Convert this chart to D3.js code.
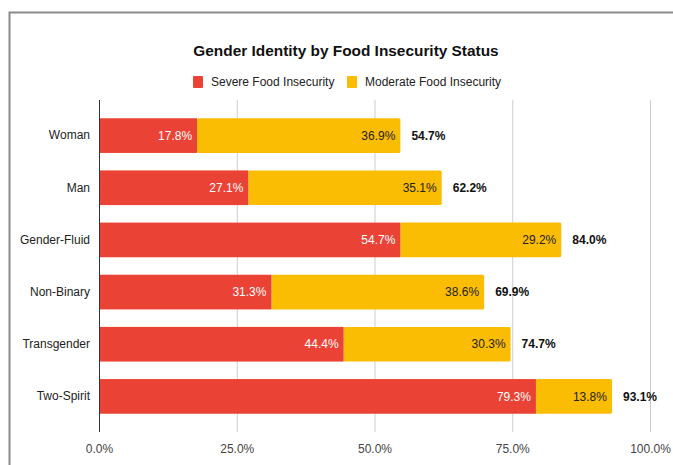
<!DOCTYPE html>
<html>
<head>
<meta charset="utf-8">
<script src="https://cdn.jsdelivr.net/npm/d3@7"></script>
<style>
  body { margin: 0; background: #fff; font-family: "Liberation Sans", Arial, sans-serif; }
</style>
</head>
<body>
<script>
var categories = ["Woman", "Man", "Gender-Fluid", "Non-Binary", "Transgender", "Two-Spirit"];
var severe = [17.8, 27.1, 54.7, 31.3, 44.4, 79.3];
var moderate = [36.9, 35.1, 29.2, 38.6, 30.3, 13.8];
var totals = [54.7, 62.2, 84.0, 69.9, 74.7, 93.1];
var xTicks = [0, 25, 50, 75, 100];
var seriesNames = ["Severe Food Insecurity", "Moderate Food Insecurity"];

var width = 673, height = 465;
var margin = {left: 99, right: 22, top: 100, bottom: 33};
var colors = ["#ea4335", "#fbbc04"];

var svg = d3.select("body").append("svg").attr("width", width).attr("height", height);

// frame (left + top border)
svg.append("path")
    .attr("d", "M9.5," + height + "V12.5H" + width)
    .attr("fill", "none")
    .attr("stroke", "#8a8a8a")
    .attr("stroke-width", 2);

var x = d3.scaleLinear().domain([0, 100]).range([margin.left, width - margin.right - 1]);
var y = d3.scaleBand().domain(categories)
    .range([margin.top, height - margin.bottom])
    .paddingInner(0.335).paddingOuter(0.35);

// grid
svg.append("g").selectAll("line")
    .data(xTicks.slice(1))
    .enter().append("line")
    .attr("x1", function(d) { return x(d) + 0.5; })
    .attr("x2", function(d) { return x(d) + 0.5; })
    .attr("y1", margin.top)
    .attr("y2", height - margin.bottom)
    .attr("stroke", "#cccccc");

// x axis labels
var xAxis = d3.axisBottom(x).tickValues(xTicks).tickSize(0).tickPadding(12)
    .tickFormat(function(d) { return d.toFixed(1) + "%"; });
var gx = svg.append("g").attr("transform", "translate(0," + (height - margin.bottom) + ")").call(xAxis);
gx.select(".domain").remove();
gx.selectAll("text").attr("font-size", 12).attr("fill", "#444").attr("font-family", "Liberation Sans, Arial, sans-serif");

// y axis labels
var yAxis = d3.axisLeft(y).tickSize(0).tickPadding(9);
var gy = svg.append("g").attr("transform", "translate(" + margin.left + ",0)").call(yAxis);
gy.select(".domain").remove();
gy.selectAll("text").attr("font-size", 12).attr("fill", "#222").attr("font-family", "Liberation Sans, Arial, sans-serif");

var rows = categories.map(function(c, i) {
  return {name: c, s: severe[i], m: moderate[i], t: totals[i]};
});

var bars = svg.append("g");
// moderate bars (stacked after severe)
bars.selectAll("rect.mod").data(rows).enter().append("rect")
    .attr("class", "mod")
    .attr("x", function(d) { return x(d.s); })
    .attr("y", function(d) { return y(d.name); })
    .attr("width", function(d) { return x(d.s + d.m) - x(d.s); })
    .attr("height", y.bandwidth())
    .attr("rx", 1.5)
    .attr("fill", colors[1]);
bars.selectAll("rect.sev").data(rows).enter().append("rect")
    .attr("class", "sev")
    .attr("x", x(0))
    .attr("y", function(d) { return y(d.name); })
    .attr("width", function(d) { return x(d.s) - x(0); })
    .attr("height", y.bandwidth())
    .attr("fill", colors[0]);

// baseline
svg.append("line")
    .attr("x1", x(0) + 0.5).attr("x2", x(0) + 0.5)
    .attr("y1", margin.top).attr("y2", height - margin.bottom)
    .attr("stroke", "#333");

var labels = svg.append("g").attr("font-size", 12).attr("font-family", "Liberation Sans, Arial, sans-serif");
labels.selectAll("text.sev").data(rows).enter().append("text")
    .attr("x", function(d) { return x(d.s) - 5; })
    .attr("y", function(d) { return y(d.name) + y.bandwidth() / 2; })
    .attr("dy", "0.35em")
    .attr("text-anchor", "end")
    .attr("fill", "#fff")
    .text(function(d) { return d.s.toFixed(1) + "%"; });
labels.selectAll("text.mod").data(rows).enter().append("text")
    .attr("x", function(d) { return x(d.s + d.m) - 5; })
    .attr("y", function(d) { return y(d.name) + y.bandwidth() / 2; })
    .attr("dy", "0.35em")
    .attr("text-anchor", "end")
    .attr("fill", "#222")
    .text(function(d) { return d.m.toFixed(1) + "%"; });
labels.selectAll("text.tot").data(rows).enter().append("text")
    .attr("x", function(d) { return x(d.s + d.m) + 11; })
    .attr("y", function(d) { return y(d.name) + y.bandwidth() / 2; })
    .attr("dy", "0.35em")
    .attr("font-weight", "bold")
    .attr("fill", "#111")
    .text(function(d) { return d.t.toFixed(1) + "%"; });

// title
svg.append("text")
    .attr("x", 346).attr("y", 56)
    .attr("text-anchor", "middle")
    .attr("font-size", 15.4).attr("font-weight", "bold")
    .attr("fill", "#111")
    .text("Gender Identity by Food Insecurity Status");

// legend
var legendX = [193, 347];
var lg = svg.append("g").attr("font-size", 12).attr("font-family", "Liberation Sans, Arial, sans-serif");
seriesNames.forEach(function(n, i) {
  lg.append("rect").attr("x", legendX[i]).attr("y", 76).attr("width", 10).attr("height", 12)
    .attr("rx", 1).attr("fill", colors[i]);
  lg.append("text").attr("x", legendX[i] + 18).attr("y", 82).attr("dy", "0.35em")
    .attr("fill", "#222").text(n);
});
</script>
</body>
</html>
